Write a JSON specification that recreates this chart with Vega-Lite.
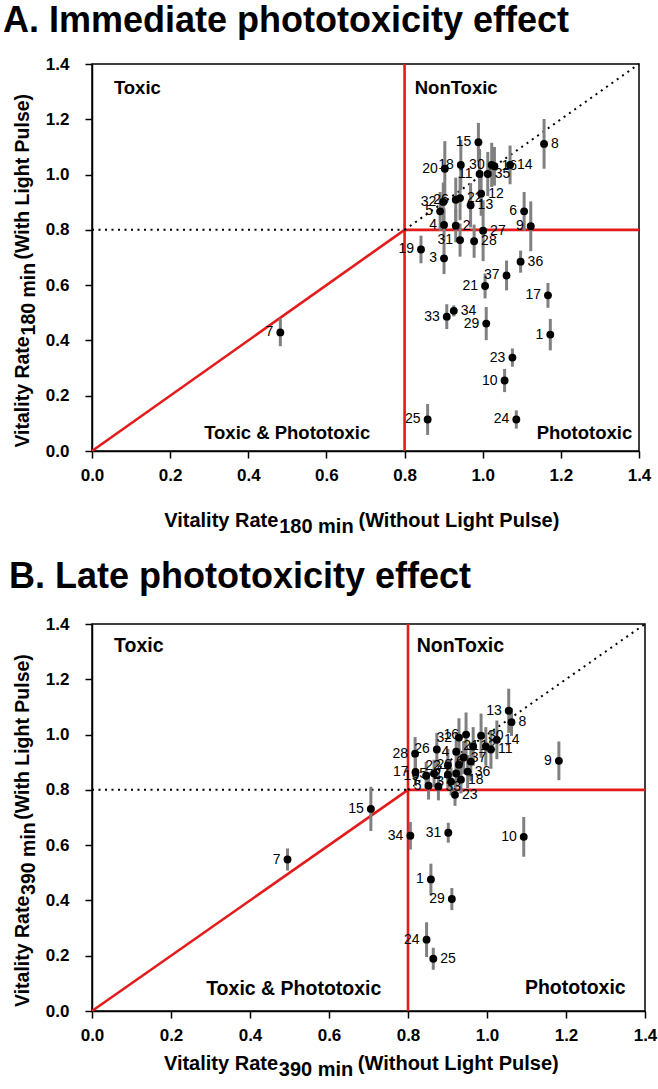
{
  "$schema": "https://vega.github.io/schema/vega-lite/v6.json",
  "padding": {"left": 2, "top": 2, "right": 2, "bottom": 4},
  "bounds": "flush",
  "spacing": 173,
  "config": {
    "font": "Liberation Sans",
    "view": {"stroke": "black", "strokeWidth": 1.5},
    "axis": {"grid": false, "domainColor": "black", "domainWidth": 1.5, "tickColor": "black", "tickWidth": 1.5, "tickSize": 7, "labelFont": "Liberation Sans", "labelFontWeight": "bold", "labelFontSize": 17, "labelColor": "black", "labelFlush": false, "labelOverlap": false},
    "text": {"font": "Liberation Sans", "color": "black"}
  },
  "datasets": {
    "lines": [
      {"kind": "red", "x1": 0.8, "y1": 0, "x2": 0.8, "y2": 1.4},
      {"kind": "red", "x1": 0.8, "y1": 0.8, "x2": 1.4, "y2": 0.8},
      {"kind": "red", "x1": 0, "y1": 0, "x2": 0.8, "y2": 0.8},
      {"kind": "dot", "x1": 0, "y1": 0.8, "x2": 0.8, "y2": 0.8},
      {"kind": "dot", "x1": 0.8, "y1": 0.8, "x2": 1.4, "y2": 1.4}
    ],
    "ptsA": [
      {"id": "1", "x": 1.173, "y": 0.421, "lo": 0.364, "hi": 0.478, "side": "L"},
      {"id": "2", "x": 0.931, "y": 0.815, "lo": 0.755, "hi": 0.875, "side": "R"},
      {"id": "3", "x": 0.901, "y": 0.697, "lo": 0.640, "hi": 0.754, "side": "L"},
      {"id": "4", "x": 0.901, "y": 0.818, "lo": 0.758, "hi": 0.878, "side": "L"},
      {"id": "5", "x": 0.891, "y": 0.867, "lo": 0.797, "hi": 0.937, "side": "L"},
      {"id": "6", "x": 1.106, "y": 0.867, "lo": 0.797, "hi": 0.937, "side": "L"},
      {"id": "7", "x": 0.482, "y": 0.429, "lo": 0.379, "hi": 0.479, "side": "L"},
      {"id": "8", "x": 1.157, "y": 1.111, "lo": 1.021, "hi": 1.201, "side": "R"},
      {"id": "9", "x": 1.123, "y": 0.813, "lo": 0.723, "hi": 0.903, "side": "L"},
      {"id": "10", "x": 1.056, "y": 0.255, "lo": 0.213, "hi": 0.297, "side": "L"},
      {"id": "11", "x": 0.992, "y": 1.002, "lo": 0.912, "hi": 1.092, "side": "L"},
      {"id": "12", "x": 0.996, "y": 0.931, "lo": 0.851, "hi": 1.011, "side": "R"},
      {"id": "13", "x": 0.969, "y": 0.889, "lo": 0.809, "hi": 0.969, "side": "R"},
      {"id": "14", "x": 1.070, "y": 1.035, "lo": 0.965, "hi": 1.105, "side": "R"},
      {"id": "15", "x": 0.989, "y": 1.117, "lo": 1.047, "hi": 1.187, "side": "L"},
      {"id": "16", "x": 1.030, "y": 1.030, "lo": 0.960, "hi": 1.100, "side": "R"},
      {"id": "17", "x": 1.167, "y": 0.563, "lo": 0.518, "hi": 0.608, "side": "L"},
      {"id": "18", "x": 0.944, "y": 1.035, "lo": 0.945, "hi": 1.125, "side": "L"},
      {"id": "19", "x": 0.842, "y": 0.729, "lo": 0.679, "hi": 0.779, "side": "L"},
      {"id": "20", "x": 0.903, "y": 1.021, "lo": 0.921, "hi": 1.121, "side": "L"},
      {"id": "21", "x": 1.006, "y": 0.597, "lo": 0.552, "hi": 0.642, "side": "L"},
      {"id": "22", "x": 0.942, "y": 0.915, "lo": 0.835, "hi": 0.995, "side": "R"},
      {"id": "23", "x": 1.076, "y": 0.338, "lo": 0.305, "hi": 0.371, "side": "L"},
      {"id": "24", "x": 1.086, "y": 0.114, "lo": 0.081, "hi": 0.147, "side": "L"},
      {"id": "25", "x": 0.859, "y": 0.114, "lo": 0.058, "hi": 0.170, "side": "L"},
      {"id": "26", "x": 0.931, "y": 0.909, "lo": 0.829, "hi": 0.989, "side": "L"},
      {"id": "27", "x": 1.001, "y": 0.797, "lo": 0.687, "hi": 0.907, "side": "R"},
      {"id": "28", "x": 0.978, "y": 0.759, "lo": 0.699, "hi": 0.819, "side": "R"},
      {"id": "29", "x": 1.009, "y": 0.461, "lo": 0.401, "hi": 0.521, "side": "L"},
      {"id": "30", "x": 1.023, "y": 1.035, "lo": 0.955, "hi": 1.115, "side": "L"},
      {"id": "31", "x": 0.942, "y": 0.763, "lo": 0.703, "hi": 0.823, "side": "L"},
      {"id": "32", "x": 0.899, "y": 0.901, "lo": 0.831, "hi": 0.971, "side": "L"},
      {"id": "33", "x": 0.908, "y": 0.486, "lo": 0.441, "hi": 0.531, "side": "L"},
      {"id": "34", "x": 0.926, "y": 0.507, "lo": 0.487, "hi": 0.527, "side": "R"},
      {"id": "35", "x": 1.013, "y": 1.002, "lo": 0.922, "hi": 1.082, "side": "R"},
      {"id": "36", "x": 1.097, "y": 0.685, "lo": 0.645, "hi": 0.725, "side": "R"},
      {"id": "37", "x": 1.061, "y": 0.635, "lo": 0.581, "hi": 0.689, "side": "L"}
    ],
    "ptsB": [
      {"id": "1", "x": 0.858, "y": 0.476, "lo": 0.419, "hi": 0.533, "side": "L"},
      {"id": "2", "x": 0.901, "y": 0.855, "lo": 0.805, "hi": 0.905, "side": "L"},
      {"id": "3", "x": 0.909, "y": 0.830, "lo": 0.780, "hi": 0.880, "side": "L"},
      {"id": "4", "x": 0.922, "y": 0.938, "lo": 0.868, "hi": 1.008, "side": "L"},
      {"id": "5", "x": 0.852, "y": 0.815, "lo": 0.765, "hi": 0.865, "side": "L"},
      {"id": "6", "x": 0.959, "y": 0.902, "lo": 0.832, "hi": 0.972, "side": "L"},
      {"id": "7", "x": 0.495, "y": 0.548, "lo": 0.508, "hi": 0.588, "side": "L"},
      {"id": "8", "x": 1.062, "y": 1.045, "lo": 0.995, "hi": 1.095, "side": "R"},
      {"id": "9", "x": 1.182, "y": 0.905, "lo": 0.835, "hi": 0.975, "side": "L"},
      {"id": "10", "x": 1.093, "y": 0.630, "lo": 0.558, "hi": 0.702, "side": "L"},
      {"id": "11", "x": 1.010, "y": 0.946, "lo": 0.876, "hi": 1.016, "side": "R"},
      {"id": "12", "x": 0.965, "y": 0.957, "lo": 0.887, "hi": 1.027, "side": "R"},
      {"id": "13", "x": 1.055, "y": 1.086, "lo": 1.006, "hi": 1.166, "side": "L"},
      {"id": "14", "x": 1.025, "y": 0.981, "lo": 0.911, "hi": 1.051, "side": "R"},
      {"id": "15", "x": 0.706, "y": 0.731, "lo": 0.651, "hi": 0.811, "side": "L"},
      {"id": "16", "x": 0.947, "y": 1.000, "lo": 0.920, "hi": 1.080, "side": "L"},
      {"id": "17", "x": 0.819, "y": 0.864, "lo": 0.814, "hi": 0.914, "side": "L"},
      {"id": "18", "x": 0.934, "y": 0.837, "lo": 0.787, "hi": 0.887, "side": "R"},
      {"id": "19", "x": 0.846, "y": 0.851, "lo": 0.801, "hi": 0.901, "side": "L"},
      {"id": "20", "x": 0.929, "y": 0.891, "lo": 0.831, "hi": 0.951, "side": "L"},
      {"id": "21", "x": 0.997, "y": 0.957, "lo": 0.887, "hi": 1.027, "side": "L"},
      {"id": "22", "x": 0.901, "y": 0.888, "lo": 0.828, "hi": 0.948, "side": "L"},
      {"id": "23", "x": 0.919, "y": 0.782, "lo": 0.742, "hi": 0.822, "side": "R"},
      {"id": "24", "x": 0.847, "y": 0.258, "lo": 0.195, "hi": 0.321, "side": "L"},
      {"id": "25", "x": 0.864, "y": 0.189, "lo": 0.149, "hi": 0.229, "side": "R"},
      {"id": "26", "x": 0.873, "y": 0.946, "lo": 0.886, "hi": 1.006, "side": "L"},
      {"id": "27", "x": 0.922, "y": 0.859, "lo": 0.809, "hi": 0.909, "side": "L"},
      {"id": "28", "x": 0.818, "y": 0.931, "lo": 0.871, "hi": 0.991, "side": "L"},
      {"id": "29", "x": 0.911, "y": 0.405, "lo": 0.365, "hi": 0.445, "side": "L"},
      {"id": "30", "x": 0.985, "y": 0.996, "lo": 0.916, "hi": 1.076, "side": "R"},
      {"id": "31", "x": 0.902, "y": 0.645, "lo": 0.609, "hi": 0.681, "side": "L"},
      {"id": "32", "x": 0.929, "y": 0.989, "lo": 0.919, "hi": 1.059, "side": "L"},
      {"id": "33", "x": 0.877, "y": 0.812, "lo": 0.762, "hi": 0.862, "side": "R"},
      {"id": "34", "x": 0.806, "y": 0.634, "lo": 0.584, "hi": 0.684, "side": "L"},
      {"id": "35", "x": 0.866, "y": 0.859, "lo": 0.809, "hi": 0.909, "side": "L"},
      {"id": "36", "x": 0.951, "y": 0.866, "lo": 0.806, "hi": 0.926, "side": "R"},
      {"id": "37", "x": 0.941, "y": 0.917, "lo": 0.857, "hi": 0.977, "side": "R"}
    ]
  },
  "vconcat": [
    {
      "width": 547,
      "height": 387,
      "layer": [
        {
          "data": {"name": "lines"},
          "transform": [{"filter": "datum.kind == 'red'"}],
          "mark": {"type": "rule", "color": "#e31b1b", "strokeWidth": 2.6},
          "encoding": {
            "x": {"field": "x1", "type": "quantitative", "title": null, "scale": {"domain": [0, 1.4], "nice": false, "zero": false}, "axis": {"values": [0, 0.2, 0.4, 0.6, 0.8, 1.0, 1.2, 1.4], "format": ".1f", "labelPadding": 9, "title": null}},
            "y": {"field": "y1", "type": "quantitative", "title": null, "scale": {"domain": [0, 1.4], "nice": false, "zero": false}, "axis": {"values": [0, 0.2, 0.4, 0.6, 0.8, 1.0, 1.2, 1.4], "format": ".1f", "labelPadding": 16, "title": null}},
            "x2": {"field": "x2"},
            "y2": {"field": "y2"}
          }
        },
        {
          "data": {"name": "lines"},
          "transform": [{"filter": "datum.kind == 'dot'"}],
          "mark": {"type": "rule", "color": "black", "strokeWidth": 2, "strokeDash": [2, 4.5]},
          "encoding": {
            "x": {"field": "x1", "type": "quantitative", "title": null},
            "y": {"field": "y1", "type": "quantitative", "title": null},
            "x2": {"field": "x2"},
            "y2": {"field": "y2"}
          }
        },
        {
          "data": {"name": "ptsA"},
          "mark": {"type": "rule", "color": "#808080", "strokeWidth": 3},
          "encoding": {
            "x": {"field": "x", "type": "quantitative", "title": null},
            "y": {"field": "lo", "type": "quantitative", "title": null},
            "y2": {"field": "hi"}
          }
        },
        {
          "data": {"name": "ptsA"},
          "mark": {"type": "circle", "color": "black", "size": 62, "opacity": 1},
          "encoding": {
            "x": {"field": "x", "type": "quantitative", "title": null},
            "y": {"field": "y", "type": "quantitative", "title": null}
          }
        },
        {
          "data": {"name": "ptsA"},
          "transform": [{"filter": "datum.side == 'L'"}],
          "mark": {"type": "text", "align": "right", "baseline": "middle", "dx": -7, "fontSize": 14},
          "encoding": {
            "x": {"field": "x", "type": "quantitative", "title": null},
            "y": {"field": "y", "type": "quantitative", "title": null},
            "text": {"field": "id"}
          }
        },
        {
          "data": {"name": "ptsA"},
          "transform": [{"filter": "datum.side == 'R'"}],
          "mark": {"type": "text", "align": "left", "baseline": "middle", "dx": 7, "fontSize": 14},
          "encoding": {
            "x": {"field": "x", "type": "quantitative", "title": null},
            "y": {"field": "y", "type": "quantitative", "title": null},
            "text": {"field": "id"}
          }
        },
        {
          "data": {"values": [{}]},
          "mark": {"type": "text", "text": "A. Immediate phototoxicity effect", "align": "left", "baseline": "alphabetic", "fontSize": 36, "fontWeight": "bold"},
          "encoding": {"x": {"datum": -0.228, "type": "quantitative"}, "y": {"datum": 1.516, "type": "quantitative"}}
        },
        {
          "data": {"values": [{}]},
          "mark": {"type": "text", "text": "Toxic", "align": "left", "baseline": "alphabetic", "fontSize": 18.5, "fontWeight": "bold"},
          "encoding": {"x": {"datum": 0.056, "type": "quantitative"}, "y": {"datum": 1.29, "type": "quantitative"}}
        },
        {
          "data": {"values": [{}]},
          "mark": {"type": "text", "text": "NonToxic", "align": "left", "baseline": "alphabetic", "fontSize": 18.5, "fontWeight": "bold"},
          "encoding": {"x": {"datum": 0.826, "type": "quantitative"}, "y": {"datum": 1.29, "type": "quantitative"}}
        },
        {
          "data": {"values": [{}]},
          "mark": {"type": "text", "text": "Toxic & Phototoxic", "align": "left", "baseline": "alphabetic", "fontSize": 18.5, "fontWeight": "bold"},
          "encoding": {"x": {"datum": 0.287, "type": "quantitative"}, "y": {"datum": 0.043, "type": "quantitative"}}
        },
        {
          "data": {"values": [{}]},
          "mark": {"type": "text", "text": "Phototoxic", "align": "left", "baseline": "alphabetic", "fontSize": 18.5, "fontWeight": "bold"},
          "encoding": {"x": {"datum": 1.138, "type": "quantitative"}, "y": {"datum": 0.043, "type": "quantitative"}}
        },
        {
          "data": {"values": [{}]},
          "mark": {"type": "text", "text": "Vitality Rate", "align": "right", "baseline": "alphabetic", "fontSize": 20, "fontWeight": "bold"},
          "encoding": {"x": {"datum": 0.477, "type": "quantitative"}, "y": {"datum": -0.274, "type": "quantitative"}}
        },
        {
          "data": {"values": [{}]},
          "mark": {"type": "text", "text": "180 min", "align": "left", "baseline": "alphabetic", "fontSize": 20, "fontWeight": "bold"},
          "encoding": {"x": {"datum": 0.479, "type": "quantitative"}, "y": {"datum": -0.296, "type": "quantitative"}}
        },
        {
          "data": {"values": [{}]},
          "mark": {"type": "text", "text": "(Without Light Pulse)", "align": "left", "baseline": "alphabetic", "fontSize": 20, "fontWeight": "bold"},
          "encoding": {"x": {"datum": 0.682, "type": "quantitative"}, "y": {"datum": -0.274, "type": "quantitative"}}
        },
        {
          "data": {"values": [{}]},
          "mark": {"type": "text", "text": "Vitality Rate", "align": "right", "baseline": "alphabetic", "angle": 270, "fontSize": 19.5, "fontWeight": "bold"},
          "encoding": {"x": {"datum": -0.162, "type": "quantitative"}, "y": {"datum": 0.415, "type": "quantitative"}}
        },
        {
          "data": {"values": [{}]},
          "mark": {"type": "text", "text": "180 min", "align": "left", "baseline": "alphabetic", "angle": 270, "fontSize": 19.5, "fontWeight": "bold"},
          "encoding": {"x": {"datum": -0.146, "type": "quantitative"}, "y": {"datum": 0.418, "type": "quantitative"}}
        },
        {
          "data": {"values": [{}]},
          "mark": {"type": "text", "text": "(With Light Pulse)", "align": "left", "baseline": "alphabetic", "angle": 270, "fontSize": 19.5, "fontWeight": "bold"},
          "encoding": {"x": {"datum": -0.162, "type": "quantitative"}, "y": {"datum": 0.693, "type": "quantitative"}}
        }
      ]
    },
    {
      "width": 553,
      "height": 387,
      "layer": [
        {
          "data": {"name": "lines"},
          "transform": [{"filter": "datum.kind == 'red'"}],
          "mark": {"type": "rule", "color": "#e31b1b", "strokeWidth": 2.6},
          "encoding": {
            "x": {"field": "x1", "type": "quantitative", "title": null, "scale": {"domain": [0, 1.4], "nice": false, "zero": false}, "axis": {"values": [0, 0.2, 0.4, 0.6, 0.8, 1.0, 1.2, 1.4], "format": ".1f", "labelPadding": 9, "title": null}},
            "y": {"field": "y1", "type": "quantitative", "title": null, "scale": {"domain": [0, 1.4], "nice": false, "zero": false}, "axis": {"values": [0, 0.2, 0.4, 0.6, 0.8, 1.0, 1.2, 1.4], "format": ".1f", "labelPadding": 16, "title": null}},
            "x2": {"field": "x2"},
            "y2": {"field": "y2"}
          }
        },
        {
          "data": {"name": "lines"},
          "transform": [{"filter": "datum.kind == 'dot'"}],
          "mark": {"type": "rule", "color": "black", "strokeWidth": 2, "strokeDash": [2, 4.5]},
          "encoding": {
            "x": {"field": "x1", "type": "quantitative", "title": null},
            "y": {"field": "y1", "type": "quantitative", "title": null},
            "x2": {"field": "x2"},
            "y2": {"field": "y2"}
          }
        },
        {
          "data": {"name": "ptsB"},
          "mark": {"type": "rule", "color": "#808080", "strokeWidth": 3},
          "encoding": {
            "x": {"field": "x", "type": "quantitative", "title": null},
            "y": {"field": "lo", "type": "quantitative", "title": null},
            "y2": {"field": "hi"}
          }
        },
        {
          "data": {"name": "ptsB"},
          "mark": {"type": "circle", "color": "black", "size": 62, "opacity": 1},
          "encoding": {
            "x": {"field": "x", "type": "quantitative", "title": null},
            "y": {"field": "y", "type": "quantitative", "title": null}
          }
        },
        {
          "data": {"name": "ptsB"},
          "transform": [{"filter": "datum.side == 'L'"}],
          "mark": {"type": "text", "align": "right", "baseline": "middle", "dx": -7, "fontSize": 14},
          "encoding": {
            "x": {"field": "x", "type": "quantitative", "title": null},
            "y": {"field": "y", "type": "quantitative", "title": null},
            "text": {"field": "id"}
          }
        },
        {
          "data": {"name": "ptsB"},
          "transform": [{"filter": "datum.side == 'R'"}],
          "mark": {"type": "text", "align": "left", "baseline": "middle", "dx": 7, "fontSize": 14},
          "encoding": {
            "x": {"field": "x", "type": "quantitative", "title": null},
            "y": {"field": "y", "type": "quantitative", "title": null},
            "text": {"field": "id"}
          }
        },
        {
          "data": {"values": [{}]},
          "mark": {"type": "text", "text": "B. Late phototoxicity effect", "align": "left", "baseline": "alphabetic", "fontSize": 36, "fontWeight": "bold"},
          "encoding": {"x": {"datum": -0.21, "type": "quantitative"}, "y": {"datum": 1.529, "type": "quantitative"}}
        },
        {
          "data": {"values": [{}]},
          "mark": {"type": "text", "text": "Toxic", "align": "left", "baseline": "alphabetic", "fontSize": 19.5, "fontWeight": "bold"},
          "encoding": {"x": {"datum": 0.056, "type": "quantitative"}, "y": {"datum": 1.297, "type": "quantitative"}}
        },
        {
          "data": {"values": [{}]},
          "mark": {"type": "text", "text": "NonToxic", "align": "left", "baseline": "alphabetic", "fontSize": 19.5, "fontWeight": "bold"},
          "encoding": {"x": {"datum": 0.822, "type": "quantitative"}, "y": {"datum": 1.297, "type": "quantitative"}}
        },
        {
          "data": {"values": [{}]},
          "mark": {"type": "text", "text": "Toxic & Phototoxic", "align": "left", "baseline": "alphabetic", "fontSize": 19.5, "fontWeight": "bold"},
          "encoding": {"x": {"datum": 0.289, "type": "quantitative"}, "y": {"datum": 0.058, "type": "quantitative"}}
        },
        {
          "data": {"values": [{}]},
          "mark": {"type": "text", "text": "Phototoxic", "align": "left", "baseline": "alphabetic", "fontSize": 19.5, "fontWeight": "bold"},
          "encoding": {"x": {"datum": 1.096, "type": "quantitative"}, "y": {"datum": 0.062, "type": "quantitative"}}
        },
        {
          "data": {"values": [{}]},
          "mark": {"type": "text", "text": "Vitality Rate", "align": "right", "baseline": "alphabetic", "fontSize": 20, "fontWeight": "bold"},
          "encoding": {"x": {"datum": 0.471, "type": "quantitative"}, "y": {"datum": -0.214, "type": "quantitative"}}
        },
        {
          "data": {"values": [{}]},
          "mark": {"type": "text", "text": "390 min", "align": "left", "baseline": "alphabetic", "fontSize": 20, "fontWeight": "bold"},
          "encoding": {"x": {"datum": 0.473, "type": "quantitative"}, "y": {"datum": -0.234, "type": "quantitative"}}
        },
        {
          "data": {"values": [{}]},
          "mark": {"type": "text", "text": "(Without Light Pulse)", "align": "left", "baseline": "alphabetic", "fontSize": 20, "fontWeight": "bold"},
          "encoding": {"x": {"datum": 0.673, "type": "quantitative"}, "y": {"datum": -0.214, "type": "quantitative"}}
        },
        {
          "data": {"values": [{}]},
          "mark": {"type": "text", "text": "Vitality Rate", "align": "right", "baseline": "alphabetic", "angle": 270, "fontSize": 19.5, "fontWeight": "bold"},
          "encoding": {"x": {"datum": -0.159, "type": "quantitative"}, "y": {"datum": 0.417, "type": "quantitative"}}
        },
        {
          "data": {"values": [{}]},
          "mark": {"type": "text", "text": "390 min", "align": "left", "baseline": "alphabetic", "angle": 270, "fontSize": 19.5, "fontWeight": "bold"},
          "encoding": {"x": {"datum": -0.144, "type": "quantitative"}, "y": {"datum": 0.42, "type": "quantitative"}}
        },
        {
          "data": {"values": [{}]},
          "mark": {"type": "text", "text": "(With Light Pulse)", "align": "left", "baseline": "alphabetic", "angle": 270, "fontSize": 19.5, "fontWeight": "bold"},
          "encoding": {"x": {"datum": -0.159, "type": "quantitative"}, "y": {"datum": 0.692, "type": "quantitative"}}
        }
      ]
    }
  ]
}
